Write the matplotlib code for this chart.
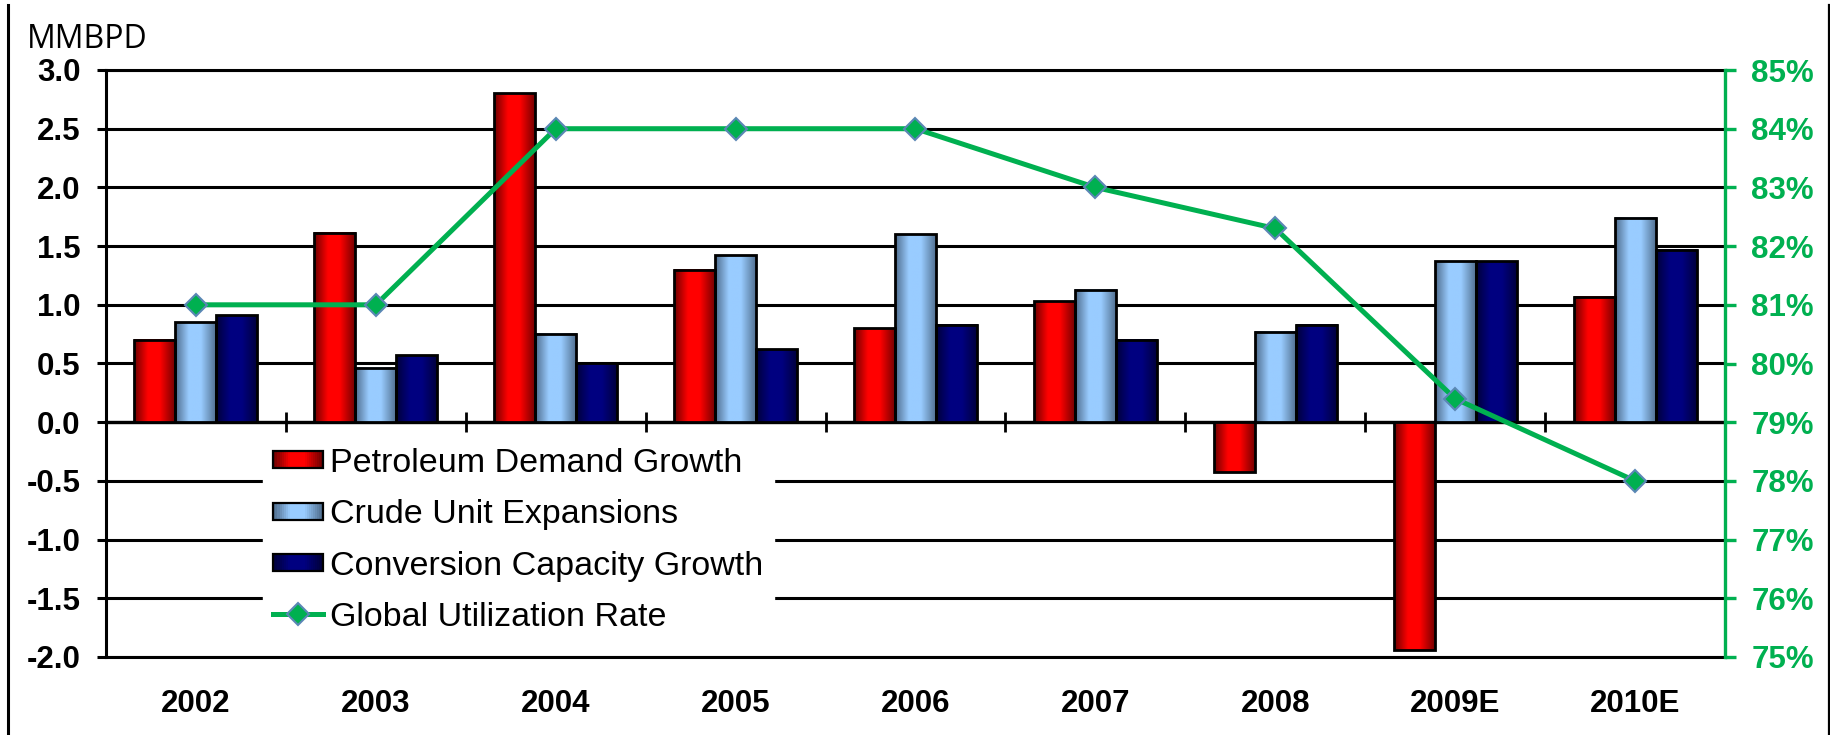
import numpy as np
import matplotlib
matplotlib.use("Agg")
import matplotlib.pyplot as plt
from matplotlib.patches import Rectangle
from matplotlib.lines import Line2D
from matplotlib.legend_handler import HandlerBase
from matplotlib.colors import to_rgb
from matplotlib.ticker import FuncFormatter, MultipleLocator

# ---- data -------------------------------------------------------------
years = ["2002", "2003", "2004", "2005", "2006", "2007", "2008", "2009E", "2010E"]
demand_growth = [0.70, 1.61, 2.80, 1.30, 0.80, 1.03, -0.42, -1.94, 1.07]
crude_expansions = [0.85, 0.46, 0.75, 1.42, 1.60, 1.13, 0.77, 1.37, 1.74]
conversion_growth = [0.91, 0.57, 0.50, 0.62, 0.83, 0.70, 0.83, 1.37, 1.47]
utilization_pct = [81, 81, 84, 84, 84, 83, 82.3, 79.4, 78]

series_labels = ["Petroleum Demand Growth", "Crude Unit Expansions",
                 "Conversion Capacity Growth"]
line_label = "Global Utilization Rate"

# ---- style ------------------------------------------------------------
plt.rcParams["font.family"] = ["Liberation Sans", "DejaVu Sans"]
GREEN = "#00B050"
SHADES = [("#6E0000", "#FF0000"),      # red cylinder
          ("#4E6C8C", "#99CCFF"),      # light blue cylinder
          ("#00003A", "#000080")]      # navy cylinder
TICK_FS = 22.5


def shade(dark, bright, n=80):
    """Horizontal colour ramp giving a cylinder look: dark edges, bright core."""
    t = np.linspace(0, 1, n)
    f = np.interp(t, [0, 0.33, 0.62, 1], [0.0, 1.0, 1.0, 0.0])
    d = np.array(to_rgb(dark))
    b = np.array(to_rgb(bright))
    return d[None, :] + (b - d)[None, :] * f[:, None]


class GradientHandler(HandlerBase):
    def __init__(self, colors):
        super().__init__()
        self.colors = colors

    def create_artists(self, legend, orig_handle, xdescent, ydescent,
                       width, height, fontsize, trans):
        n = len(self.colors)
        h = height * 0.72
        y0 = -ydescent + (height - h) / 2
        x0 = -xdescent
        arts = [Rectangle((x0 + width * i / n, y0), width / n * 1.05, h,
                          facecolor=c, edgecolor="none", transform=trans)
                for i, c in enumerate(self.colors)]
        arts.append(Rectangle((x0, y0), width, h, facecolor="none",
                              edgecolor="black", lw=1.6, transform=trans))
        return arts


fig = plt.figure(figsize=(18.31, 7.35), dpi=100)
ax = fig.add_axes([106 / 1831, 1 - 657 / 735, 1619 / 1831, 587 / 735])

ymin, ymax = -2.0, 3.0
x = np.arange(len(years))
bw = 0.228

for k, vals in enumerate([demand_growth, crude_expansions, conversion_growth]):
    bars = ax.bar(x + (k - 1) * bw, vals, bw, facecolor="none",
                  edgecolor="black", linewidth=2.0, zorder=3)
    grad = shade(*SHADES[k])[None, :, :]
    for p in bars:
        x0, y0 = p.get_x(), p.get_y()
        pw, ph = p.get_width(), p.get_height()
        ax.imshow(grad, extent=[x0, x0 + pw, min(y0, y0 + ph), max(y0, y0 + ph)],
                  aspect="auto", zorder=2.5, interpolation="bilinear")

ax.set_xlim(-0.5, len(years) - 0.5)
ax.set_ylim(ymin, ymax)
ax.yaxis.set_major_locator(MultipleLocator(0.5))
ax.yaxis.set_major_formatter(FuncFormatter(lambda v, _: f"{v:.1f}"))
ax.grid(axis="y", color="black", linewidth=2.2)
ax.set_axisbelow(True)

ax.set_xticks(x, years)
ax.tick_params(axis="x", length=0, pad=23, labelsize=TICK_FS)
ax.tick_params(axis="y", direction="out", length=6.5, width=2.2, pad=12,
               labelsize=TICK_FS)
for lab in ax.get_xticklabels() + ax.get_yticklabels():
    lab.set_fontweight("bold")
for side in ("left", "top", "bottom"):
    ax.spines[side].set_linewidth(2.2)
    ax.spines[side].set_color("black")
ax.spines["right"].set_visible(False)

# category axis drawn across the zero level with crossing tick marks
zero_pos = (0 - ymin) / (ymax - ymin)
secx = ax.secondary_xaxis(zero_pos)
secx.set_xticks(np.arange(0.5, len(years), 1.0))
secx.tick_params(axis="x", direction="inout", length=14, width=2,
                 labelbottom=False)
secx.spines["bottom"].set_linewidth(2.4)

# utilization rate on the right axis
ax2 = ax.twinx()
ax2.plot(x, utilization_pct, color=GREEN, linewidth=3.6, marker="D",
         markersize=11, markerfacecolor=GREEN, markeredgecolor="#5B87B5",
         markeredgewidth=1.5, zorder=5, label=line_label)
ax2.set_ylim(75, 85)
ax2.yaxis.set_major_locator(MultipleLocator(1))
ax2.yaxis.set_major_formatter(FuncFormatter(lambda v, _: f"{v:.0f}%"))
ax2.tick_params(axis="y", colors=GREEN, length=8, width=2.4, pad=11,
                labelsize=TICK_FS)
for lab in ax2.get_yticklabels():
    lab.set_fontweight("bold")
for side in ("left", "top", "bottom"):
    ax2.spines[side].set_visible(False)
ax2.spines["right"].set_color(GREEN)
ax2.spines["right"].set_linewidth(2.4)

# legend
proxies = [Rectangle((0, 0), 1, 1) for _ in series_labels]
line_proxy = Line2D([], [], color=GREEN, linewidth=3.6, marker="D",
                    markersize=11, markerfacecolor=GREEN,
                    markeredgecolor="#5B87B5", markeredgewidth=1.5)
hmap = {p: GradientHandler(shade(*SHADES[i], n=24)) for i, p in enumerate(proxies)}
leg = ax2.legend(proxies + [line_proxy], series_labels + [line_label],
                 handler_map=hmap, loc="upper left",
                 bbox_to_anchor=(0.097, 0.374), bbox_transform=ax.transAxes,
                 fontsize=24.5, frameon=True, fancybox=False, framealpha=1,
                 facecolor="white", edgecolor="white", borderaxespad=0,
                 borderpad=0.3, handlelength=1.47, handletextpad=0.2,
                 labelspacing=0.6)
leg.set_zorder(10)

fig.text(27 / 1831, 1 - 48 / 735, "MMBPD", fontsize=23,
         family=["Open Sans", "DejaVu Sans"], va="baseline", ha="left")

# page border lines
fig.add_artist(Line2D([8 / 1831, 8 / 1831], [0, 0.993], color="black", lw=2.2))
fig.add_artist(Line2D([1829 / 1831, 1829 / 1831], [0, 0.993], color="black", lw=1.6))

fig.savefig("out.png", dpi=100, facecolor="white")
